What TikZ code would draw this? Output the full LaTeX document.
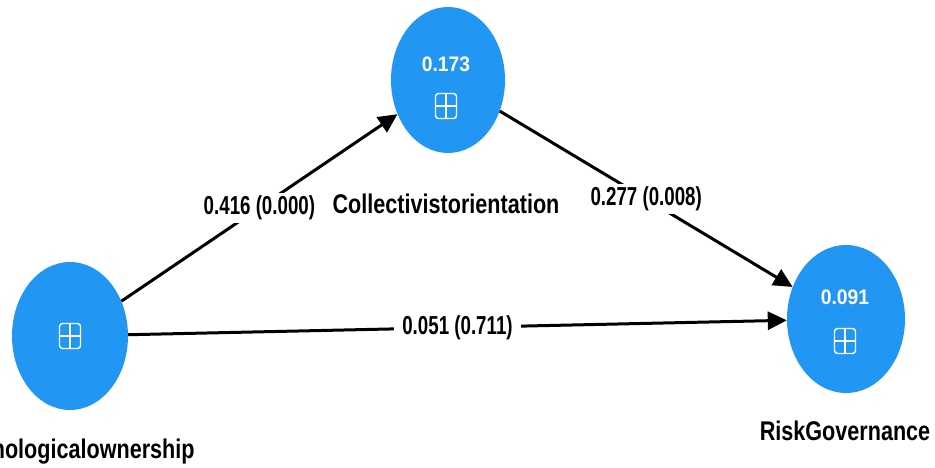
\documentclass[tikz,border=0pt]{standalone}
\usepackage{fontspec}
\setmainfont{Liberation Sans}
\newfontfamily\namefont{Liberation Sans}[FakeStretch=0.80]
\newfontfamily\numfont{Liberation Sans}[FakeStretch=0.72]
\newfontfamily\valfont{Liberation Sans}[FakeStretch=0.92]
\usetikzlibrary{shapes.geometric,arrows.meta}
\definecolor{lvblue}{RGB}{33,150,243}
\begin{document}
\begin{tikzpicture}[x=1pt,y=-1pt,
  latent/.style={ellipse, fill=lvblue, draw=none, inner sep=0pt},
  valtext/.style={text=white, font=\valfont\bfseries\fontsize{21}{23}\selectfont, inner sep=0pt},
  iconbox/.style={draw=white, line width=1.4pt, rounded corners=3pt, minimum width=21pt, minimum height=25pt, inner sep=0pt,
    path picture={\draw[white, line width=1.2pt] (path picture bounding box.north) -- (path picture bounding box.south)
      (path picture bounding box.west) -- (path picture bounding box.east);}},
  namelabel/.style={font=\namefont\bfseries\fontsize{27}{30}\selectfont, text=black, anchor=base, inner sep=0pt},
  pathline/.style={line width=3pt, -{Triangle[length=19pt,width=18pt]}},
  coef/.style={fill=white, font=\numfont\bfseries\fontsize{26}{28}\selectfont, text=black, inner xsep=8pt, inner ysep=3pt, pos=0.5}
]
\useasboundingbox (0,0) rectangle (935,468);
\fill[white] (0,0) rectangle (935,468);

% latent variables
\node[latent, minimum width=116pt, minimum height=148pt] (po) at (70,336) {};
\node[latent, minimum width=114pt, minimum height=146pt] (co) at (448,80) {};
\node[latent, minimum width=118pt, minimum height=148pt] (rg) at (846,319) {};

% values and icons
\node[valtext] (coval) at (446,64) {0.173};
\node[iconbox] (coicon) at (446,106) {};
\node[iconbox] (poicon) at (70,336) {};
\node[valtext] (rgval) at (845,297) {0.091};
\node[iconbox] (rgicon) at (845,341) {};

% names
\node[namelabel] (coname) at (446,213) {Collectivistorientation};
\node[namelabel] (poname) at (68,458) {Psychologicalownership};
\node[namelabel] (rgname) at (845,440) {RiskGovernance};

% paths
\draw[pathline] (po) -- node[coef] (c1) {0.416 (0.000)} (co);
\draw[pathline] (co) -- node[coef] (c2) {0.277 (0.008)} (rg);
\draw[pathline] (po) -- node[coef] (c3) {0.051 (0.711)} (rg);
\end{tikzpicture}
\end{document}
